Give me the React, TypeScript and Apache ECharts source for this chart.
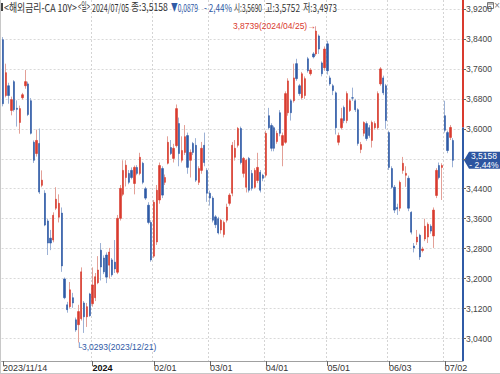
import React, { useEffect, useRef } from "react";
import * as echarts from "echarts";

// ---------- DATA ----------
const monthDays: [string, number[]][] = [
  ["2023/11", [14, 15, 16, 17, 20, 21, 22, 23, 24, 27, 28, 29, 30]],
  ["2023/12", [1, 4, 5, 6, 7, 8, 11, 12, 13, 14, 15, 18, 19, 20, 21, 22, 27, 28, 29]],
  ["2024/01", [2, 3, 4, 5, 8, 9, 10, 11, 12, 15, 16, 17, 18, 19, 22, 23, 24, 25, 26, 29, 30, 31]],
  ["2024/02", [1, 2, 5, 6, 7, 8, 9, 12, 13, 14, 15, 16, 20, 21, 22, 23, 26, 27, 28, 29]],
  ["2024/03", [1, 4, 5, 6, 7, 8, 11, 12, 13, 14, 15, 18, 19, 20, 21, 22, 25, 26, 27, 28]],
  ["2024/04", [1, 2, 3, 4, 5, 8, 9, 10, 11, 12, 15, 16, 17, 18, 19, 22, 23, 24, 25, 26, 29, 30]],
  ["2024/05", [1, 2, 3, 6, 7, 8, 9, 10, 13, 14, 15, 16, 17, 21, 22, 23, 24, 27, 28, 29, 30, 31]],
  ["2024/06", [3, 4, 5, 6, 7, 10, 11, 12, 13, 14, 17, 18, 19, 20, 21, 24, 25, 26, 27, 28]],
  ["2024/07", [2, 3, 4, 5]],
];

const open = [
  3.838, 3.689, 3.715, 3.649, 3.726, 3.655, 3.617, 3.683, 3.715, 3.72,
  3.675, 3.564, 3.534, 3.561, 3.449, 3.428, 3.354, 3.308, 3.303, 3.388,
  3.364, 3.375, 3.199, 3.13, 3.125, 3.149, 3.09, 3.077, 3.093, 3.135,
  3.098, 3.159, 3.133, 3.149, 3.189, 3.276, 3.255, 3.263, 3.236, 3.25,
  3.244, 3.217, 3.361, 3.425, 3.47, 3.481, 3.489, 3.454, 3.497, 3.481,
  3.508, 3.44, 3.396, 3.35, 3.26, 3.298, 3.41, 3.494, 3.457, 3.508,
  3.55, 3.521, 3.555, 3.614, 3.516, 3.537, 3.582, 3.516, 3.561, 3.556,
  3.457, 3.489, 3.556, 3.489, 3.428, 3.415, 3.365, 3.36, 3.33, 3.318,
  3.356, 3.401, 3.428, 3.524, 3.556, 3.601, 3.481, 3.444, 3.521, 3.481,
  3.444, 3.462, 3.484, 3.476, 3.476, 3.635, 3.609, 3.603, 3.566, 3.643,
  3.556, 3.564, 3.643, 3.675, 3.675, 3.774, 3.715, 3.683, 3.689, 3.787,
  3.747, 3.8, 3.8, 3.848, 3.776, 3.763, 3.827, 3.736, 3.715, 3.696,
  3.564, 3.603, 3.657, 3.622, 3.649, 3.683, 3.675, 3.651, 3.545, 3.588,
  3.614, 3.603, 3.569, 3.603, 3.603, 3.72, 3.736, 3.715, 3.59, 3.494,
  3.444, 3.39, 3.388, 3.489, 3.476, 3.468, 3.377, 3.287, 3.298, 3.316,
  3.275, 3.306, 3.311, 3.34, 3.314, 3.422, 3.502, 3.497, 3.635, 3.59,
  3.577, 3.569,
];
const close = [
  3.667, 3.75, 3.689, 3.678, 3.651, 3.652, 3.654, 3.691, 3.726, 3.638,
  3.588, 3.516, 3.569, 3.431, 3.463, 3.343, 3.295, 3.295, 3.369, 3.412,
  3.401, 3.234, 3.149, 3.117, 3.17, 3.135, 3.063, 3.112, 3.218, 3.098,
  3.125, 3.101, 3.183, 3.205, 3.223, 3.231, 3.218, 3.204, 3.271, 3.21,
  3.226, 3.361, 3.441, 3.489, 3.503, 3.457, 3.47, 3.497, 3.481, 3.524,
  3.457, 3.415, 3.35, 3.25, 3.404, 3.436, 3.502, 3.423, 3.47, 3.564,
  3.534, 3.548, 3.654, 3.534, 3.542, 3.579, 3.497, 3.537, 3.537, 3.463,
  3.494, 3.548, 3.51, 3.428, 3.415, 3.356, 3.344, 3.322, 3.356, 3.35,
  3.391, 3.423, 3.556, 3.548, 3.601, 3.51, 3.521, 3.516, 3.436, 3.441,
  3.489, 3.497, 3.436, 3.468, 3.588, 3.603, 3.548, 3.548, 3.588, 3.588,
  3.582, 3.694, 3.728, 3.643, 3.736, 3.734, 3.694, 3.747, 3.734, 3.755,
  3.757, 3.792, 3.861, 3.813, 3.747, 3.813, 3.755, 3.72, 3.702, 3.603,
  3.582, 3.627, 3.622, 3.694, 3.675, 3.682, 3.651, 3.561, 3.558, 3.617,
  3.574, 3.582, 3.617, 3.614, 3.694, 3.76, 3.696, 3.622, 3.497, 3.444,
  3.383, 3.386, 3.457, 3.508, 3.481, 3.388, 3.324, 3.282, 3.311, 3.258,
  3.279, 3.34, 3.345, 3.327, 3.383, 3.489, 3.47, 3.502, 3.596, 3.542,
  3.6037, 3.5158,
];
const low = [
  3.66, 3.684, 3.667, 3.636, 3.646, 3.606, 3.587, 3.678, 3.707, 3.634,
  3.585, 3.509, 3.526, 3.426, 3.444, 3.34, 3.263, 3.276, 3.297, 3.383,
  3.35, 3.218, 3.145, 3.109, 3.12, 3.122, 3.058, 3.0293, 3.088, 3.055,
  3.071, 3.098, 3.125, 3.14, 3.185, 3.195, 3.212, 3.188, 3.2, 3.205,
  3.215, 3.212, 3.355, 3.42, 3.446, 3.452, 3.465, 3.425, 3.476, 3.476,
  3.452, 3.41, 3.345, 3.245, 3.255, 3.29, 3.4, 3.415, 3.45, 3.505,
  3.53, 3.51, 3.55, 3.5, 3.51, 3.53, 3.48, 3.47, 3.53, 3.458,
  3.45, 3.48, 3.5, 3.405, 3.395, 3.35, 3.335, 3.318, 3.32, 3.31,
  3.35, 3.395, 3.42, 3.515, 3.55, 3.505, 3.47, 3.43, 3.43, 3.435,
  3.44, 3.455, 3.43, 3.46, 3.47, 3.598, 3.54, 3.54, 3.56, 3.58,
  3.5, 3.56, 3.635, 3.622, 3.67, 3.728, 3.688, 3.678, 3.68, 3.75,
  3.742, 3.788, 3.795, 3.8, 3.74, 3.755, 3.745, 3.715, 3.69, 3.585,
  3.556, 3.598, 3.615, 3.615, 3.645, 3.675, 3.645, 3.555, 3.535, 3.58,
  3.568, 3.576, 3.55, 3.598, 3.598, 3.715, 3.69, 3.6, 3.49, 3.44,
  3.375, 3.37, 3.38, 3.48, 3.445, 3.38, 3.318, 3.27, 3.29, 3.25,
  3.27, 3.3, 3.295, 3.32, 3.282, 3.415, 3.465, 3.41, 3.59, 3.535,
  3.57, 3.4973,
];
const high = [
  3.845, 3.774, 3.723, 3.686, 3.73, 3.676, 3.662, 3.696, 3.757, 3.726,
  3.682, 3.569, 3.598, 3.601, 3.489, 3.436, 3.36, 3.33, 3.377, 3.444,
  3.425, 3.39, 3.203, 3.138, 3.191, 3.162, 3.096, 3.13, 3.23, 3.14,
  3.135, 3.162, 3.23, 3.215, 3.26, 3.295, 3.262, 3.27, 3.282, 3.255,
  3.303, 3.37, 3.45, 3.516, 3.516, 3.49, 3.497, 3.502, 3.503, 3.536,
  3.512, 3.445, 3.404, 3.356, 3.41, 3.45, 3.51, 3.5, 3.478, 3.58,
  3.57, 3.56, 3.665, 3.63, 3.58, 3.61, 3.59, 3.545, 3.565, 3.575,
  3.5, 3.565, 3.59, 3.495, 3.435, 3.42, 3.37, 3.365, 3.36, 3.355,
  3.4, 3.428, 3.565, 3.57, 3.605, 3.606, 3.525, 3.52, 3.525, 3.49,
  3.495, 3.536, 3.49, 3.48, 3.595, 3.656, 3.615, 3.608, 3.595, 3.65,
  3.59, 3.7, 3.735, 3.68, 3.774, 3.787, 3.72, 3.752, 3.74, 3.792,
  3.762, 3.805, 3.8739, 3.852, 3.78, 3.82, 3.835, 3.742, 3.72, 3.7,
  3.59, 3.656, 3.662, 3.7, 3.68, 3.71, 3.68, 3.655, 3.565, 3.62,
  3.62, 3.61, 3.622, 3.62, 3.7, 3.765, 3.742, 3.72, 3.595, 3.5,
  3.45, 3.4, 3.462, 3.525, 3.5, 3.475, 3.38, 3.295, 3.33, 3.32,
  3.285, 3.36, 3.35, 3.345, 3.39, 3.495, 3.51, 3.508, 3.675, 3.595,
  3.61, 3.5752,
];

const yTicks = [3.04, 3.12, 3.2, 3.28, 3.36, 3.44, 3.52, 3.6, 3.68, 3.76, 3.84, 3.92];
const xLabelDates = [
  "2023/11/14", "2024/01/02", "2024/02/01", "2024/03/01",
  "2024/04/01", "2024/05/01", "2024/06/03", "2024/07/02",
];
const instrument = "<해외금리-CA 10Y>";
const period = "<일>";

// ---------- STYLE / LAYOUT ----------
const W = 500;
const H = 374;
const GRID_RIGHT_X = 463;
const GRID_BOTTOM_Y = 361;
const RED = "#d93a2e";
const BLUE = "#2f5aa6";
const RED_W = "#e3a097";
const BLUE_W = "#9cb1d5";
const DARK = "#333333";
const NFONT = "'Liberation Sans', Arial, sans-serif";
const KFONT = "'Noto Sans CJK KR', 'Liberation Sans', sans-serif";

const dates: string[] = monthDays.flatMap(([ym, days]) =>
  days.map((d) => `${ym}/${String(d).padStart(2, "0")}`)
);
const N = dates.length;
const categories = [...dates, " ", "  ", "   "];

const fmt = (v: number) => v.toFixed(4).replace(".", ",");
const labelSet = new Set(xLabelDates);
const isLabel = (i: number) => i < N && labelSet.has(dates[i]);

let measureCtx: CanvasRenderingContext2D | null = null;
function textWidth(text: string, font: string) {
  if (!measureCtx) measureCtx = document.createElement("canvas").getContext("2d");
  measureCtx!.font = font;
  return measureCtx!.measureText(text).width;
}

export default function App() {
  const ref = useRef<HTMLDivElement>(null);

  useEffect(() => {
    const chart = echarts.init(ref.current!, null, { renderer: "svg" });

    const last = N - 1;
    const wickData = dates.map((_, i) => [open[i], close[i], low[i], high[i]]);
    const bodyData = dates.map((_, i) => [
      open[i],
      close[i],
      Math.min(open[i], close[i]),
      Math.max(open[i], close[i]),
    ]);

    let hiIdx = 0;
    let loIdx = 0;
    for (let i = 0; i < N; i++) {
      if (high[i] > high[hiIdx]) hiIdx = i;
      if (low[i] < low[loIdx]) loIdx = i;
    }
    // the last-price tag covers the nearby axis label
    const yLabelValues = yTicks.filter((v) => Math.abs(v - close[last]) > 0.02);

    const option: any = {
      animation: false,
      backgroundColor: "#ffffff",
      grid: { left: 0, right: W - GRID_RIGHT_X, top: 0, bottom: H - GRID_BOTTOM_Y, containLabel: false },
      xAxis: {
        type: "category",
        data: categories,
        boundaryGap: true,
        axisLine: { show: true, lineStyle: { color: "#a0a0a0", width: 1 } },
        axisTick: {
          show: true,
          alignWithLabel: true,
          interval: (i: number) => isLabel(i),
          length: 5,
          lineStyle: { color: "#666" },
        },
        axisLabel: {
          interval: (i: number) => isLabel(i),
          showMinLabel: true,
          hideOverlap: false,
          formatter: (v: string, i: number) => {
            const k = xLabelDates.indexOf(v);
            if (k <= 0) return v;
            if (v.slice(0, 4) !== xLabelDates[k - 1].slice(0, 4)) return `{b|${v.slice(0, 4)}}`;
            return v.slice(5);
          },
          align: "left",
          margin: 2,
          fontSize: 9,
          color: "#333",
          fontFamily: NFONT,
          rich: { b: { fontWeight: "bold", fontSize: 9, color: "#111", fontFamily: NFONT } },
        },
        splitLine: {
          show: true,
          interval: (i: number) => i > 0 && isLabel(i),
          lineStyle: { color: "#d4d4d4", type: [2, 2], width: 1 },
        },
      },
      yAxis: {
        type: "value",
        position: "right",
        min: 2.98,
        max: 3.944,
        axisLine: { show: false },
        axisTick: { show: true, customValues: yTicks, length: 3, lineStyle: { color: "#666" } },
        axisLabel: {
          customValues: yLabelValues,
          formatter: (v: number) => fmt(v),
          fontSize: 8.5,
          color: "#444",
          margin: 3,
          fontFamily: NFONT,
        },
        splitLine: { show: true, lineStyle: { color: "#d9d9d9", type: [2, 2], width: 1 } },
      },
      series: [
        {
          type: "candlestick",
          name: "wick",
          data: wickData,
          barWidth: 1,
          silent: true,
          itemStyle: {
            color: RED_W,
            color0: BLUE_W,
            borderColor: RED_W,
            borderColor0: BLUE_W,
            borderWidth: 1,
          },
          markPoint: {
            symbol: "circle",
            symbolSize: 1,
            silent: true,
            itemStyle: { color: "rgba(0,0,0,0)" },
            data: [
              {
                coord: [dates[hiIdx], high[hiIdx]],
                label: {
                  show: true,
                  position: "left",
                  distance: 0,
                  formatter: `${fmt(high[hiIdx])}(${dates[hiIdx]})→`,
                  color: RED,
                  fontSize: 8.5,
                  fontFamily: NFONT,
                },
              },
              {
                coord: [dates[loIdx], low[loIdx]],
                label: {
                  show: true,
                  position: [-2, 0],
                  align: "left",
                  verticalAlign: "top",
                  formatter: `└${fmt(low[loIdx])}(${dates[loIdx]})`,
                  color: BLUE,
                  fontSize: 8.5,
                  fontFamily: NFONT,
                },
              },
            ],
          },
        },
        {
          type: "candlestick",
          name: "body",
          data: bodyData,
          barWidth: 1.8,
          silent: true,
          itemStyle: {
            color: RED,
            color0: BLUE,
            borderColor: RED,
            borderColor0: BLUE,
            borderWidth: 0.6,
          },
        },
      ],
    };

    chart.setOption(option);

    // ---------- overlay: header, price axis line, last price tag ----------
    const prevClose = close[last - 1];
    const chg = close[last] - prevClose;
    const pct = (chg / prevClose) * 100;
    const yPrev = chart.convertToPixel({ yAxisIndex: 0 }, prevClose) as number;
    const yLast = chart.convertToPixel({ yAxisIndex: 0 }, close[last]) as number;

    const HFS = 11;
    const segs = [
      { t: instrument, x: 4, w: 73, c: DARK },
      { t: period, x: 78, w: 12, c: DARK },
      { t: dates[last], x: 92, w: 37, c: DARK },
      { t: "종:" + fmt(close[last]), x: 131, w: 37, c: DARK },
      { t: (chg < 0 ? "▼" : "▲") + fmt(Math.abs(chg)), x: 171, w: 27, c: BLUE },
      { t: (chg < 0 ? "- " : "+ ") + Math.abs(pct).toFixed(2).replace(".", ",") + "%", x: 204, w: 28, c: BLUE },
      { t: "시:" + fmt(open[last]), x: 234, w: 28, c: DARK },
      { t: "고:" + fmt(high[last]), x: 265, w: 35, c: DARK },
      { t: "저:" + fmt(low[last]), x: 303, w: 34, c: DARK },
    ];
    const headerEls = segs.map((s) => {
      const nat = textWidth(s.t, `${HFS}px ${KFONT}`);
      return {
        type: "text",
        x: s.x,
        y: 7,
        scaleX: nat > 0 ? s.w / nat : 1,
        silent: true,
        style: {
          text: s.t,
          fontSize: HFS,
          fontFamily: KFONT,
          fill: s.c,
          align: "left",
          verticalAlign: "middle",
        },
      };
    });

    const tagTop = `${fmt(close[last])}`;
    const tagBot = `${chg < 0 ? "- " : "+ "}${Math.abs(pct).toFixed(2).replace(".", ",")}%`;

    chart.setOption({
      graphic: [
        { type: "rect", shape: { x: 1, y: 3, width: 2, height: 8 }, style: { fill: "#444" }, silent: true },
        ...headerEls,
        // window icons top right
        { type: "rect", shape: { x: 487.5, y: 2.5, width: 6, height: 6 }, style: { fill: "#fff", stroke: "#777", lineWidth: 1 }, silent: true },
        { type: "line", shape: { x1: 488, y1: 4, x2: 493, y2: 4 }, style: { stroke: "#777", lineWidth: 1 }, silent: true },
        { type: "text", x: 497, y: 5.5, silent: true, style: { text: "×", fontSize: 8, fill: "#777", align: "center", verticalAlign: "middle", fontFamily: "'DejaVu Sans', sans-serif" } },
        // price axis line split at previous close
        { type: "line", shape: { x1: GRID_RIGHT_X, y1: 0, x2: GRID_RIGHT_X, y2: yPrev }, style: { stroke: RED, lineWidth: 2 }, silent: true },
        { type: "line", shape: { x1: GRID_RIGHT_X, y1: yPrev, x2: GRID_RIGHT_X, y2: GRID_BOTTOM_Y }, style: { stroke: BLUE, lineWidth: 2 }, silent: true },
        // last price tag
        {
          type: "polygon",
          silent: true,
          shape: {
            points: [
              [GRID_RIGHT_X + 1, yLast],
              [GRID_RIGHT_X + 6, yLast - 8.5],
              [W, yLast - 8.5],
              [W, yLast + 8.5],
              [GRID_RIGHT_X + 6, yLast + 8.5],
            ],
          },
          style: { fill: "#2d55a0" },
        },
        { type: "text", x: 484, y: yLast - 4, silent: true, style: { text: tagTop, fontSize: 8.5, fontFamily: NFONT, fill: "#fff", align: "center", verticalAlign: "middle" } },
        { type: "text", x: 484, y: yLast + 4.5, silent: true, style: { text: tagBot, fontSize: 8.5, fontFamily: NFONT, fill: "#fff", align: "center", verticalAlign: "middle" } },
        // frame lines
        { type: "line", shape: { x1: 0.5, y1: 0, x2: 0.5, y2: H }, style: { stroke: "#c8c8c8", lineWidth: 1 }, silent: true },
        { type: "line", shape: { x1: 0, y1: H - 0.5, x2: W, y2: H - 0.5 }, style: { stroke: "#c8c8c8", lineWidth: 1 }, silent: true },
      ],
    });

    return () => chart.dispose();
  }, []);

  return (
    <div
      ref={ref}
      style={{ position: "fixed", left: 0, top: 0, width: W, height: H, background: "#fff" }}
    />
  );
}
